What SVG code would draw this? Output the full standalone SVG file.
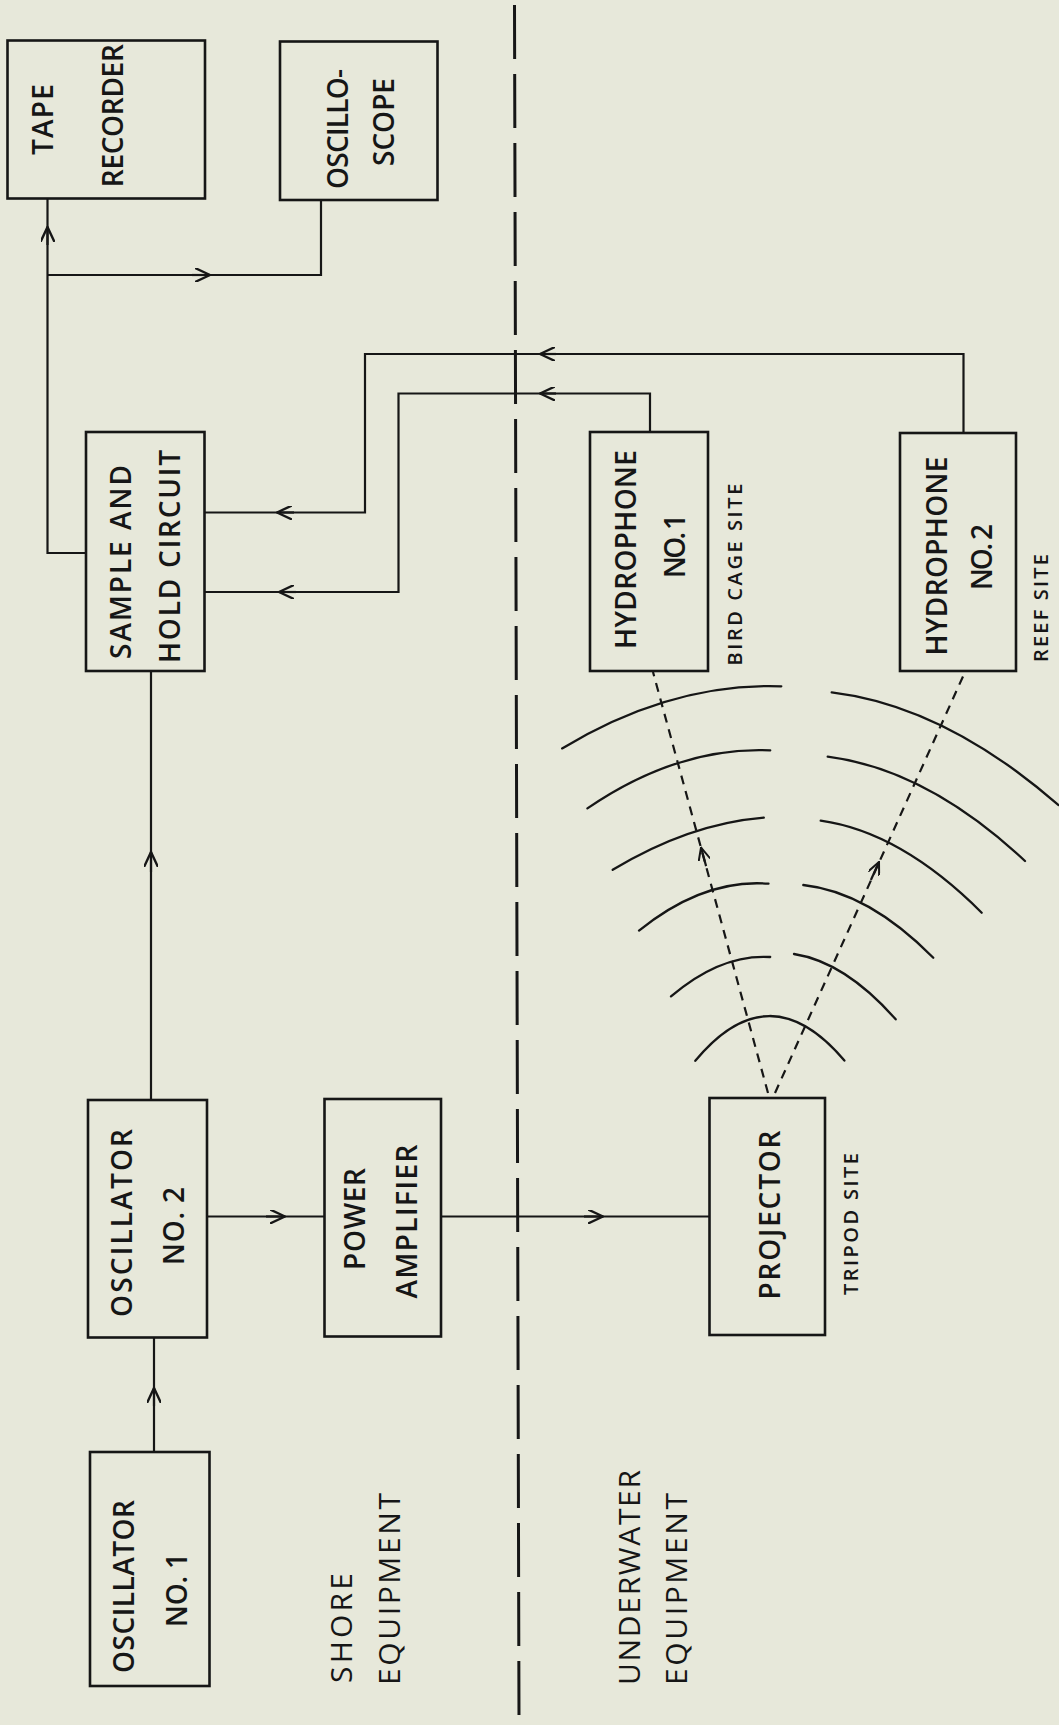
<svg xmlns="http://www.w3.org/2000/svg" width="1059" height="1725" viewBox="0 0 1059 1725">
<style>
.bg{fill:#e7e8da}
.box{fill:none;stroke:#161616;stroke-width:2.6}
.ln{fill:none;stroke:#161616;stroke-width:2.2}
.ar{fill:none;stroke:#161616;stroke-width:2.2}
.dash{fill:none;stroke:#161616;stroke-width:2.2;stroke-dasharray:9 7}
.div{fill:none;stroke:#161616;stroke-width:3;stroke-dasharray:54 15}
.wave{fill:none;stroke:#161616;stroke-width:2.3;stroke-linecap:round}
text{font-family:"Open Sans","Liberation Sans","DejaVu Sans",sans-serif;font-weight:600;fill:#161616;text-anchor:middle}
.t{font-size:28px}
.s{font-size:20px}
.b{font-size:30px;font-weight:500}
</style>
<defs>
<marker id="ah" viewBox="0 0 16 14" refX="15" refY="7" markerWidth="16" markerHeight="14" markerUnits="userSpaceOnUse" orient="auto">
<path d="M0,0 L15,7 L0,14" fill="none" stroke="#161616" stroke-width="2.4"/>
</marker>
<marker id="ahs" viewBox="0 0 14 12" refX="13" refY="6" markerWidth="14" markerHeight="12" markerUnits="userSpaceOnUse" orient="auto">
<path d="M0,0 L13,6 L0,12" fill="none" stroke="#161616" stroke-width="2"/>
</marker>
</defs>
<rect class="bg" x="0" y="0" width="1059" height="1725"/>

<g id="divider">
<path class="div" d="M514.5,5 L519,1722"/>
</g>

<g id="connectors">
<path class="ln" d="M86,553 H47.5 V199"/>
<path class="ar" d="M47.5,245 V227" marker-end="url(#ah)"/>
<path class="ln" d="M47.5,275 H321 V200"/>
<path class="ar" d="M192,275 H210" marker-end="url(#ah)"/>
<path class="ln" d="M963.5,432 V354 H365 V512.5 H204.5"/>
<path class="ar" d="M556,354 H540" marker-end="url(#ah)"/>
<path class="ar" d="M294,512.5 H277" marker-end="url(#ah)"/>
<path class="ln" d="M650,432 V393.5 H398.5 V592 H204.5"/>
<path class="ar" d="M556,393.5 H540" marker-end="url(#ah)"/>
<path class="ar" d="M296,592 H279" marker-end="url(#ah)"/>
<path class="ln" d="M151,1100 V671"/>
<path class="ar" d="M151,872 V852" marker-end="url(#ah)"/>
<path class="ln" d="M154,1452 V1337.5"/>
<path class="ar" d="M154,1406 V1388" marker-end="url(#ah)"/>
<path class="ln" d="M207,1216.5 H324.5"/>
<path class="ar" d="M266,1216.5 H285" marker-end="url(#ah)"/>
<path class="ln" d="M441,1216.5 H709.5"/>
<path class="ar" d="M584,1216.5 H603" marker-end="url(#ah)"/>
<path class="dash" d="M768,1093 L653,672"/>
<path class="dash" d="M775,1093 L965,672"/>
<path class="ar" d="M706.1,866.1 L701,847.5" marker-end="url(#ahs)"/>
<path class="ar" d="M870.9,880 L879,862" marker-end="url(#ahs)"/>
</g>

<g id="waves">
<path class="wave" d="M562.1,748.4 Q671.7,682.3 781.3,686.3"/>
<path class="wave" d="M587.4,808.4 Q678,746.4 770.2,750.4"/>
<path class="wave" d="M612.7,869.8 Q689,823.7 763.8,817.6"/>
<path class="wave" d="M639,930.6 Q703.7,878.5 768.5,883.7"/>
<path class="wave" d="M671,996.4 Q720.6,953.9 770.2,957"/>
<path class="wave" d="M695.3,1060.8 Q769.2,971.4 844.4,1060.5"/>
<path class="wave" d="M831.7,692.3 Q945,706 1058.3,805"/>
<path class="wave" d="M827.7,756.7 Q927,769.2 1025,861"/>
<path class="wave" d="M820.7,820.7 Q900.8,831.9 981.7,912.7"/>
<path class="wave" d="M803.3,885 Q868.3,892 933.3,957.7"/>
<path class="wave" d="M794,954 Q845.2,962 895.7,1019.3"/>
</g>

<g id="tape-recorder">
<rect class="box" x="7.5" y="40.5" width="197.5" height="158"/>
<text class="t" font-size="25" transform="translate(53,119.5) rotate(-90)" textLength="71" lengthAdjust="spacing">TAPE</text>
<text class="t" transform="translate(123,115.7) rotate(-90)" textLength="143" lengthAdjust="spacing">RECORDER</text>
</g>

<g id="oscilloscope">
<rect class="box" x="280" y="41.5" width="157.5" height="158.5"/>
<text class="t" transform="translate(348,129) rotate(-90)" textLength="120" lengthAdjust="spacing">OSCILLO-</text>
<text class="t" transform="translate(393.5,122) rotate(-90)" textLength="88" lengthAdjust="spacing">SCOPE</text>
</g>

<g id="sample-hold">
<rect class="box" x="86" y="432" width="118.5" height="239"/>
<text class="t" transform="translate(130.5,562) rotate(-90)" textLength="194" lengthAdjust="spacing">SAMPLE AND</text>
<text class="t" transform="translate(180,556.5) rotate(-90)" textLength="213" lengthAdjust="spacing">HOLD CIRCUIT</text>
</g>

<g id="hydrophone-1">
<rect class="box" x="590" y="432" width="118" height="239"/>
<text class="t" transform="translate(636,549.5) rotate(-90)" textLength="199" lengthAdjust="spacing">HYDROPHONE</text>
<text class="t" transform="translate(684.5,546) rotate(-90)" textLength="64" lengthAdjust="spacing">NO. 1</text>
<text class="s" transform="translate(741.5,574.6) rotate(-90)" textLength="182" lengthAdjust="spacing">BIRD CAGE SITE</text>
</g>

<g id="hydrophone-2">
<rect class="box" x="900" y="433" width="116" height="238"/>
<text class="t" transform="translate(946.5,556) rotate(-90)" textLength="199" lengthAdjust="spacing">HYDROPHONE</text>
<text class="t" transform="translate(991.5,557) rotate(-90)" textLength="66" lengthAdjust="spacing">NO. 2</text>
<text class="s" transform="translate(1048,608) rotate(-90)" textLength="108" lengthAdjust="spacing">REEF SITE</text>
</g>

<g id="oscillator-2">
<rect class="box" x="88" y="1100" width="119" height="237.5"/>
<text class="t" transform="translate(131.5,1223) rotate(-90)" textLength="188" lengthAdjust="spacing">OSCILLATOR</text>
<text class="t" transform="translate(183.5,1226) rotate(-90)" textLength="78" lengthAdjust="spacing">NO. 2</text>
</g>

<g id="power-amplifier">
<rect class="box" x="324.5" y="1099" width="116.5" height="237.5"/>
<text class="t" transform="translate(365,1219) rotate(-90)" textLength="102" lengthAdjust="spacing">POWER</text>
<text class="t" transform="translate(417,1221.6) rotate(-90)" textLength="154" lengthAdjust="spacing">AMPLIFIER</text>
</g>

<g id="projector">
<rect class="box" x="709.5" y="1098" width="115.5" height="237"/>
<text class="t" transform="translate(780,1215) rotate(-90)" textLength="169" lengthAdjust="spacing">PROJECTOR</text>
<text class="s" transform="translate(858,1224) rotate(-90)" textLength="142" lengthAdjust="spacing">TRIPOD SITE</text>
</g>

<g id="oscillator-1">
<rect class="box" x="90" y="1452" width="119.5" height="234"/>
<text class="t" transform="translate(134,1586.5) rotate(-90)" textLength="173" lengthAdjust="spacing">OSCILLATOR</text>
<text class="t" transform="translate(186.5,1590) rotate(-90)" textLength="74" lengthAdjust="spacing">NO. 1</text>
</g>

<g id="labels">
<text class="b" transform="translate(352,1628) rotate(-90)" textLength="110" lengthAdjust="spacing">SHORE</text>
<text class="b" transform="translate(399.5,1589) rotate(-90)" textLength="192" lengthAdjust="spacing">EQUIPMENT</text>
<text class="b" transform="translate(639.5,1577.5) rotate(-90)" textLength="215" lengthAdjust="spacing">UNDERWATER</text>
<text class="b" transform="translate(687,1589) rotate(-90)" textLength="192" lengthAdjust="spacing">EQUIPMENT</text>
</g>
</svg>
